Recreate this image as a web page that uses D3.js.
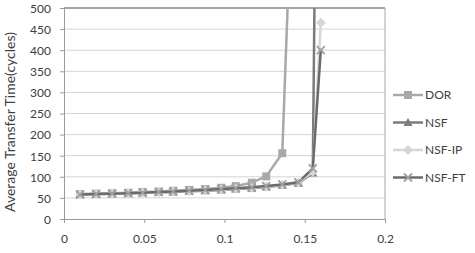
<!DOCTYPE html>
<html>
<head>
<meta charset="utf-8">
<script src="https://cdn.jsdelivr.net/npm/d3@7"></script>
<style>
  body { margin: 0; background: #fff; }
  text { font-family: Lato, 'Open Sans', sans-serif; fill: #404040; }
</style>
</head>
<body>
<svg id="chart"></svg>
<script>
const width = 475
const height = 253

// injection rates
const rates = [0.010, 0.020, 0.030, 0.040, 0.049, 0.059, 0.068, 0.078, 0.088, 0.098, 0.107, 0.117, 0.126, 0.136, 0.146, 0.155, 0.160]

// average transfer time per series (null = no point)
const dorValues = [59, 60, 61, 62, 64, 65, 67, 69, 71, 74, 78, 86, 101, 156, 1200, null, null]
const nsfValues = [58, 59, 60, 61, 62, 63, 64, 66, 67, 69, 71, 73, 76, 80, 85, 109, 2000]
const nsfIpValues = [58, 59, 60, 61, 62, 63, 65, 66, 68, 70, 72, 74, 77, 81, 86, 112, 465]
const nsfFtValues = [58, 59, 60, 61, 62, 64, 65, 67, 69, 71, 73, 75, 78, 82, 87, 120, 400]

const seriesNames = ['DOR', 'NSF', 'NSF-IP', 'NSF-FT']
const xTicks = [0, 0.05, 0.1, 0.15, 0.2]
const yTicks = [0, 50, 100, 150, 200, 250, 300, 350, 400, 450, 500]

const series = [
  { name: seriesNames[0], values: dorValues, color: '#a9a9a9', marker: 'square', mcolor: '#a9a9a9' },
  { name: seriesNames[1], values: nsfValues, color: '#7b7b7b', marker: 'triangle', mcolor: '#7b7b7b' },
  { name: seriesNames[2], values: nsfIpValues, color: '#d6d6d6', marker: 'diamond', mcolor: '#d6d6d6' },
  { name: seriesNames[3], values: nsfFtValues, color: '#6b6b6b', marker: 'x', mcolor: '#9e9e9e' }
]

const svg = d3.select('#chart')
  .attr('width', width)
  .attr('height', height)

const plot = { left: 64, right: 385, top: 8, bottom: 219 }

const x = d3.scaleLinear().domain([0, 0.2]).range([plot.left, plot.right])
const y = d3.scaleLinear().domain([0, 500]).range([plot.bottom, plot.top])

svg.append('defs').append('clipPath')
  .attr('id', 'clip')
  .append('rect')
  .attr('x', plot.left)
  .attr('y', plot.top)
  .attr('width', plot.right - plot.left + 10)
  .attr('height', plot.bottom - plot.top)

// gridlines
svg.append('g')
  .selectAll('line')
  .data(yTicks.slice(1, -1))
  .enter()
  .append('line')
  .attr('x1', plot.left)
  .attr('x2', plot.right)
  .attr('y1', d => y(d))
  .attr('y2', d => y(d))
  .attr('stroke', '#d4d4d4')
  .attr('stroke-width', 1)

// top border and right border
svg.append('line')
  .attr('x1', plot.left).attr('x2', plot.right)
  .attr('y1', y(500)).attr('y2', y(500))
  .attr('stroke', '#4a4a4a').attr('stroke-width', 1.2)
svg.append('line')
  .attr('x1', plot.right).attr('x2', plot.right)
  .attr('y1', y(500)).attr('y2', y(0))
  .attr('stroke', '#a8a8a8').attr('stroke-width', 1)

// axes
const yAxis = svg.append('g')
  .attr('transform', `translate(${plot.left},0)`)
  .call(d3.axisLeft(y).tickValues(yTicks).tickSize(4).tickPadding(9))
const xAxis = svg.append('g')
  .attr('transform', `translate(0,${plot.bottom})`)
  .call(d3.axisBottom(x).tickValues(xTicks).tickSize(4).tickPadding(11)
    .tickFormat(d => d === 0 ? '0' : String(d)))

for (const ax of [yAxis, xAxis]) {
  ax.select('.domain').attr('stroke', '#9a9a9a')
  ax.selectAll('.tick line').attr('stroke', '#9a9a9a')
  ax.selectAll('.tick text')
    .style('font-size', '12px')
    .attr('fill', '#3a3a3a')
}
yAxis.selectAll('.tick text').attr('dy', '0.36em')

// y axis title
svg.append('text')
  .attr('transform', 'translate(15,122) rotate(-90)')
  .attr('text-anchor', 'middle')
  .style('font-size', '14px')
  .attr('fill', '#222')
  .text('Average Transfer Time(cycles)')

const line = d3.line()
  .defined(d => d[1] != null)
  .x(d => x(d[0]))
  .y(d => y(d[1]))

function drawMarker(g, type, color) {
  if (type === 'square') {
    g.append('rect').attr('x', -4).attr('y', -4).attr('width', 8).attr('height', 8)
      .attr('fill', color)
  } else if (type === 'triangle') {
    g.append('path').attr('d', 'M0,-4.5L4.5,3.5L-4.5,3.5Z').attr('fill', color)
  } else if (type === 'diamond') {
    g.append('path').attr('d', 'M0,-5L5,0L0,5L-5,0Z').attr('fill', color)
  } else {
    g.append('path').attr('d', 'M-4,-4L4,4M-4,4L4,-4')
      .attr('stroke', color).attr('stroke-width', 1.8).attr('fill', 'none')
  }
}

const dataLayer = svg.append('g').attr('clip-path', 'url(#clip)')

series.forEach(s => {
  const pts = rates.map((r, i) => [r, s.values[i]])
  const g = dataLayer.append('g')
  g.append('path')
    .datum(pts)
    .attr('d', line)
    .attr('fill', 'none')
    .attr('stroke', s.color)
    .attr('stroke-width', 2.5)
    .attr('stroke-linejoin', 'round')

  g.selectAll('g.mk')
    .data(pts.filter(d => d[1] != null && d[1] <= 500))
    .enter()
    .append('g')
    .attr('class', 'mk')
    .attr('transform', d => `translate(${x(d[0])},${y(d[1])})`)
    .each(function () { drawMarker(d3.select(this), s.marker, s.mcolor) })
})

// legend
const legend = svg.append('g')
  .selectAll('g')
  .data(series)
  .enter()
  .append('g')
  .attr('transform', (d, i) => `translate(393,${95 + i * 27.5})`)

legend.append('line')
  .attr('x1', 0).attr('x2', 30)
  .attr('stroke', d => d.color)
  .attr('stroke-width', 2.5)
legend.append('g')
  .attr('transform', 'translate(15,0)')
  .each(function (d) { drawMarker(d3.select(this), d.marker, d.mcolor) })
legend.append('text')
  .attr('x', 32)
  .attr('dy', '0.36em')
  .style('font-size', '12px')
  .attr('fill', '#222')
  .text(d => d.name)
</script>
</body>
</html>
